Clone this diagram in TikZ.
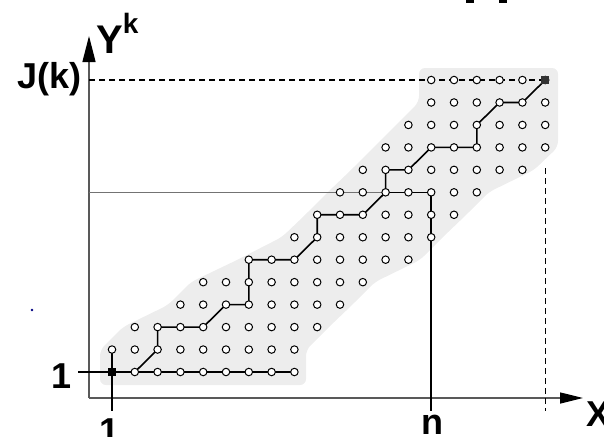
\documentclass[tikz,border=0pt]{standalone}
\usepackage{fontspec}
\setmainfont{Liberation Sans}
\usetikzlibrary{arrows.meta}
\pgfdeclarelayer{shadelayer}
\pgfdeclarelayer{bglayer}
\pgfsetlayers{shadelayer,bglayer,main}
\begin{document}
\begin{tikzpicture}[x=1pt,y=-1pt,
  gridpt/.style={circle,draw=black,fill=white,line width=1pt,inner sep=0pt,minimum size=7.5pt},
  warp/.style={line width=1.6pt,black},
  axisln/.style={line width=1.3pt,black!65},
  thinln/.style={line width=0.9pt,black!55},
  dashln/.style={line width=1.4pt,black,dash pattern=on 6pt off 4pt},
  lbl/.style={font=\bfseries\fontsize{36}{36}\selectfont,inner sep=0pt}
]
\clip (0,0) rectangle (604,436);

% grid points
\foreach \j/\a/\b in {1/1/9,2/1/9,3/2/10,4/4/11,5/5/12,6/7/14,7/9/15,8/10/16,9/11/17,10/12/19,11/13/20,12/14/20,13/15/20,14/15/20}{
  \foreach \i in {\a,...,\b}{
    \node[gridpt] (p-\i-\j) at ({112+(\i-1)*22.8},{372-(\j-1)*22.46}) {};
  }
}
\fill[black] ([shift={(-4,-4)}]p-1-1.center) rectangle ([shift={(4,4)}]p-1-1.center);
\fill[black!80] ([shift={(-4,-4)}]p-20-14.center) rectangle ([shift={(4,4)}]p-20-14.center);

\coordinate (O) at (89,398);
\coordinate (ytip) at (89,36);
\coordinate (xtip) at (583,398);
\coordinate (r1L) at (78,372);
\coordinate (lowB) at (0,411);
\coordinate (dashTop) at (0,168);

% shaded band
\begin{pgfonlayer}{shadelayer}
\fill[black!7,rounded corners=6pt] (100,385) -- (100,350) -- (123,327) -- (168,305) -- (191,282) -- (237,260) -- (282,237) -- (305,215) -- (328,192) -- (351,170) -- (374,147) -- (396,125) -- (419,102) -- (419,68) -- (558,68) -- (558,147) -- (534,170) -- (489,192) -- (466,215) -- (443,237) -- (420,260) -- (375,282) -- (352,305) -- (329,327) -- (306,350) -- (306,385) -- cycle;
\end{pgfonlayer}

\begin{pgfonlayer}{bglayer}
% axes
\draw[axisln,-{Triangle[length=26pt,width=13pt,color=black]}] (O) -- (ytip);
\draw[axisln,-{Triangle[length=23pt,width=11pt,color=black]}] (O) -- (xtip);
% reference lines
\draw[thinln] (O |- p-15-9) -- (p-15-9.center);
\draw[warp] (p-13-9.center) -- (p-15-9.center) -- (p-15-9 |- lowB);
\draw[warp] (r1L) -- (p-9-1.center);
\draw[warp] (p-1-2.center) -- (p-1-2 |- lowB);
\draw[dashln] (O |- p-20-14) -- (p-20-14.center);
\draw[dashln] (p-20-14 |- dashTop) -- (p-20-14 |- lowB);
% warping path
\draw[warp,line join=round] (p-1-1.center) -- (p-2-1.center) -- (p-3-2.center) -- (p-3-3.center) -- (p-4-3.center) -- (p-5-3.center) -- (p-6-4.center) -- (p-7-4.center) -- (p-7-5.center) -- (p-7-6.center) -- (p-8-6.center) -- (p-9-6.center) -- (p-10-7.center) -- (p-10-8.center) -- (p-11-8.center) -- (p-12-8.center) -- (p-13-9.center) -- (p-13-10.center) -- (p-14-10.center) -- (p-15-11.center) -- (p-16-11.center) -- (p-17-11.center) -- (p-17-12.center) -- (p-18-13.center) -- (p-19-13.center) -- (p-20-14.center);
\end{pgfonlayer}

% labels
\node[lbl,anchor=base east] (lJ) at (82,88) {J(k)};
\node[inner sep=0pt,anchor=base west,font=\bfseries\fontsize{40}{40}\selectfont] (lY) at (96,53) {Y\raisebox{20pt}{\fontsize{28}{28}\selectfont k}};
\node[lbl,anchor=base] (l1a) at (62,388) {1};
\node[lbl,anchor=base] (l1b) at (110,443) {1};
\node[lbl,anchor=base] (ln) at (432,434) {n};
\node[lbl,anchor=base] (lX) at (598,426) {X};

% stray marks
\fill[black!50!blue] (32,310) circle (1.3);
\fill[black] (466,-1) rectangle (474,3);
\fill[black] (499,-1) rectangle (507,3);
\end{tikzpicture}
\end{document}
